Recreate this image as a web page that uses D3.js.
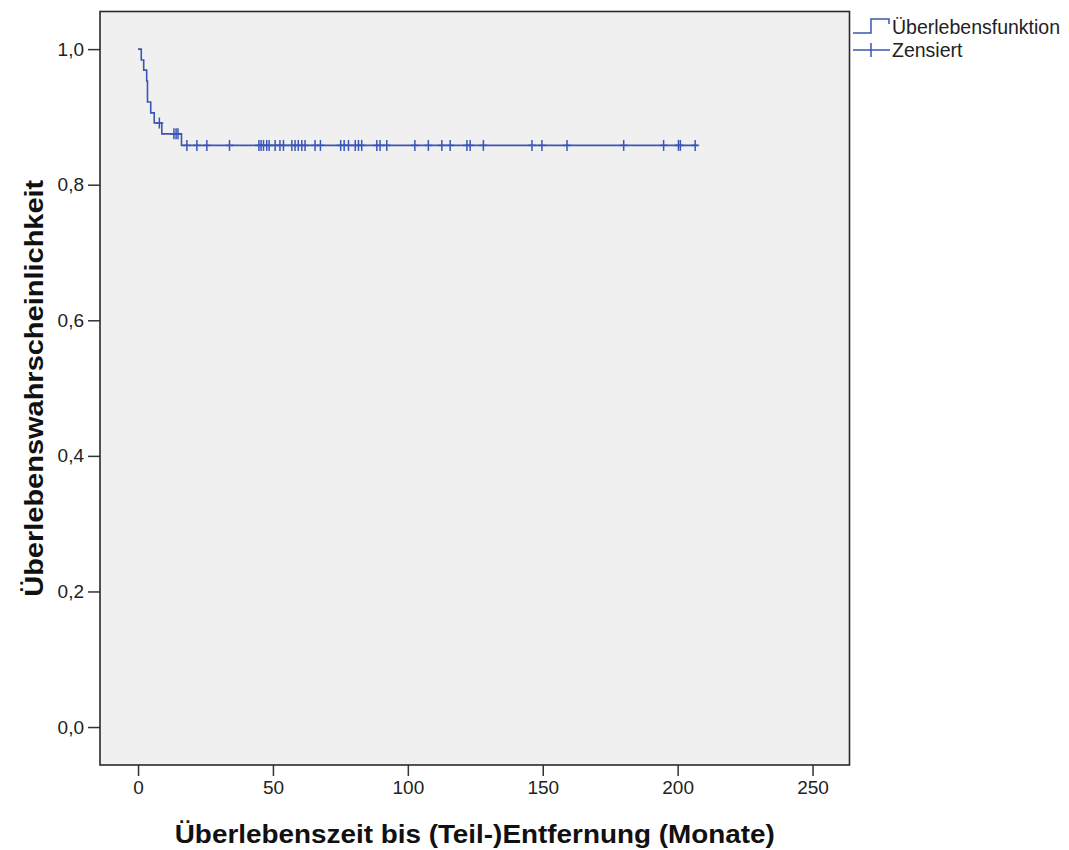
<!DOCTYPE html>
<html><head><meta charset="utf-8">
<script src="https://cdn.jsdelivr.net/npm/d3@7"></script>
<style>body{margin:0;background:#fff}svg{display:block}text{font-family:"Liberation Sans",Arial,sans-serif}</style>
</head><body>
<script>
// Data
const eventTimes = [1.2, 2.1, 3.2, 3.5, 4.7, 6.0, 8.8, 16.1];
const survivalValues = [0.984, 0.969, 0.953, 0.922, 0.906, 0.891, 0.875, 0.858];
const censorTimes = [7.9, 13.3, 14.1, 14.8, 18.1, 21.8, 25.5, 33.9,
  44.8, 45.6, 46.5, 47.7, 48.6, 50.8, 52.6, 53.9, 57.0, 58.2, 59.4, 60.7, 61.9,
  65.6, 67.6, 75.1, 76.4, 78.0, 80.5, 81.7, 82.9, 88.5, 89.7, 92.2, 102.6, 107.6,
  112.6, 115.7, 121.9, 123.1, 128.0, 146.0, 149.7, 159.0, 180.0, 194.8, 200.3, 201.0, 206.5];
const lastTime = 207.4;
const xTicks = [0, 50, 100, 150, 200, 250];
const yTicks = [0, 0.2, 0.4, 0.6, 0.8, 1.0];
const legendLabels = ["Überlebensfunktion", "Zensiert"];
const xTitle = "Überlebenszeit bis (Teil-)Entfernung (Monate)";
const yTitle = "Überlebenswahrscheinlichkeit";

const W = 1069, H = 850;
const L = 100, R = 849.5, T = 11.5, B = 765;
const blue = "#3a56b4";

const svg = d3.select("body").append("svg").attr("width", W).attr("height", H);
svg.append("rect").attr("width", W).attr("height", H).attr("fill", "#fff");

const x = d3.scaleLinear().domain([-14.1, 263.7]).range([L, R]);
const y = d3.scaleLinear().domain([-0.056, 1.0555]).range([B, T]);

svg.append("rect").attr("x", L).attr("y", T).attr("width", R - L).attr("height", B - T)
  .attr("fill", "#f0f0f0");

// axes
const fmt = d => d3.format(".1f")(d).replace(".", ",");
const ya = svg.append("g").attr("transform", `translate(${L},0)`)
  .call(d3.axisLeft(y).tickValues(yTicks).tickFormat(fmt).tickSize(12).tickPadding(4));
const xa = svg.append("g").attr("transform", `translate(0,${B})`)
  .call(d3.axisBottom(x).tickValues(xTicks).tickSize(11).tickPadding(5));
[ya, xa].forEach(g => {
  g.select(".domain").remove();
  g.selectAll(".tick line").attr("stroke", "#333").attr("stroke-width", 1.5);
  g.selectAll(".tick text").attr("fill", "#222").style("font-size", "19px")
    .style("font-family", "'Liberation Sans', Arial, sans-serif");
});

// frame
svg.append("rect").attr("x", L).attr("y", T).attr("width", R - L).attr("height", B - T)
  .attr("fill", "none").attr("stroke", "#2a2a2a").attr("stroke-width", 1.6);

// survival step line
const pts = [[0, 1]];
let cur = 1;
eventTimes.forEach((t, i) => { pts.push([t, cur]); cur = survivalValues[i]; pts.push([t, cur]); });
pts.push([lastTime, cur]);
svg.append("path").attr("d", d3.line().x(d => x(d[0])).y(d => y(d[1]))(pts))
  .attr("fill", "none").attr("stroke", blue).attr("stroke-width", 1.6);

// censored marks
function survAt(t) {
  let s = 1;
  eventTimes.forEach((e, i) => { if (e <= t) s = survivalValues[i]; });
  return s;
}
const cg = svg.append("g").attr("stroke", blue).attr("stroke-width", 1.5);
censorTimes.forEach(t => {
  const cx = x(t), cy = y(survAt(t));
  cg.append("line").attr("x1", cx).attr("x2", cx).attr("y1", cy - 5.5).attr("y2", cy + 5.5);
  cg.append("line").attr("x1", cx - 4).attr("x2", cx + 4).attr("y1", cy).attr("y2", cy);
});

// legend
const lg = svg.append("g");
lg.append("path").attr("d", "M853,33H871V19H889V24").attr("fill", "none")
  .attr("stroke", blue).attr("stroke-width", 1.5);
lg.append("line").attr("x1", 853).attr("x2", 890).attr("y1", 50).attr("y2", 50)
  .attr("stroke", blue).attr("stroke-width", 1.5);
lg.append("line").attr("x1", 871).attr("x2", 871).attr("y1", 43).attr("y2", 57)
  .attr("stroke", blue).attr("stroke-width", 1.5);
lg.selectAll("text.lab").data(legendLabels).join("text").attr("class", "lab")
  .attr("x", 892).attr("y", (d, i) => 34 + i * 23).attr("fill", "#222")
  .style("font-size", "19.5px").text(d => d);

// titles
svg.append("text").attr("x", (L + R) / 2).attr("y", 843).attr("text-anchor", "middle")
  .attr("textLength", 600).attr("lengthAdjust", "spacingAndGlyphs")
  .style("font-size", "26px").style("font-weight", "bold").attr("fill", "#111").text(xTitle);
svg.append("text").attr("transform", `translate(43,${(T + B) / 2}) rotate(-90)`)
  .attr("text-anchor", "middle").attr("textLength", 417).attr("lengthAdjust", "spacingAndGlyphs")
  .style("font-size", "26px").style("font-weight", "bold")
  .attr("fill", "#111").text(yTitle);
</script>
</body></html>
